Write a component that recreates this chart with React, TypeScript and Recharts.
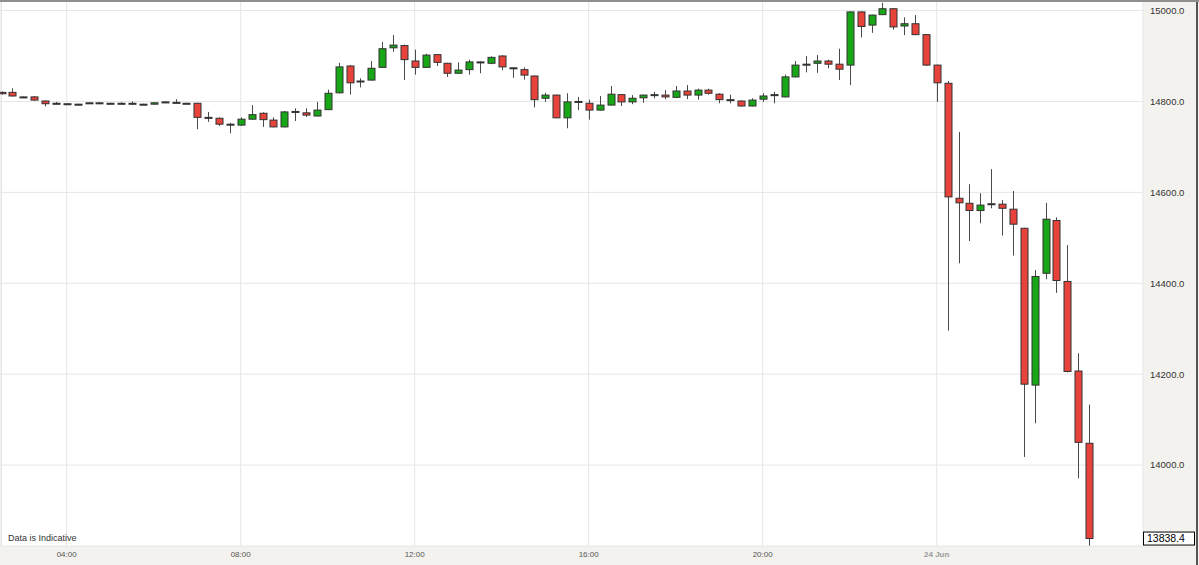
import React from "react";
import { ComposedChart, Bar, XAxis, YAxis, CartesianGrid, ReferenceLine } from "recharts";

// 15-minute candles, index 1 = 02:30, index 7 = 04:00, index 87 = 24 Jun 00:00
const opens = [
  14820, 14820, 14810, 14810, 14801, 14796, 14795, 14794, 14796, 14797,
  14796, 14796, 14796, 14794, 14794, 14799, 14798, 14796, 14796, 14765,
  14763, 14750, 14748, 14761, 14774, 14759, 14744, 14777, 14775, 14768,
  14782, 14819, 14878, 14843, 14847, 14875, 14918, 14923, 14889, 14875,
  14903, 14884, 14862, 14870, 14887, 14884, 14900, 14874, 14870, 14856,
  14807, 14814, 14764, 14799, 14796, 14781, 14792, 14815, 14799, 14808,
  14814, 14814, 14809, 14823, 14814, 14825, 14816, 14804, 14801, 14790,
  14805, 14814, 14810, 14854, 14880, 14884, 14889, 14882, 14880, 14997,
  14968, 14991, 15004, 14966, 14971, 14947, 14880, 14840, 14587, 14576,
  14560, 14573, 14574, 14563, 14521, 14176, 14422, 14538, 14404, 14207,
  14048,
];
const highs = [
  14822, 14829, 14811, 14812, 14802, 14799, 14796, 14795, 14798, 14798,
  14797, 14798, 14800, 14795, 14798, 14800, 14805, 14797, 14797, 14777,
  14765, 14753, 14765, 14792, 14776, 14765, 14779, 14785, 14785, 14799,
  14826, 14885, 14880, 14851, 14889, 14931, 14946, 14925, 14914, 14905,
  14904, 14885, 14886, 14892, 14888, 14899, 14902, 14875, 14875, 14857,
  14819, 14815, 14818, 14810, 14804, 14812, 14834, 14816, 14814, 14815,
  14821, 14825, 14834, 14836, 14828, 14828, 14818, 14815, 14802, 14807,
  14818, 14821, 14859, 14889, 14900, 14902, 14892, 14916, 14998, 14998,
  14991, 15017, 15005, 14985, 14990, 14948, 14881, 14845, 14733, 14618,
  14598, 14651, 14583, 14603, 14522, 14429, 14577, 14545, 14484, 14246,
  14133,
];
const lows = [
  14815, 14811, 14809, 14802, 14789, 14794, 14794, 14793, 14795, 14796,
  14795, 14795, 14792, 14793, 14793, 14798, 14797, 14795, 14739, 14755,
  14746, 14730, 14746, 14760, 14744, 14743, 14743, 14757, 14766, 14767,
  14781, 14818, 14815, 14831, 14846, 14874, 14909, 14847, 14859, 14874,
  14878, 14854, 14861, 14859, 14862, 14882, 14869, 14852, 14848, 14787,
  14799, 14763, 14741, 14781, 14760, 14780, 14791, 14790, 14794, 14797,
  14807, 14805, 14808, 14805, 14804, 14815, 14796, 14796, 14789, 14789,
  14799, 14796, 14809, 14853, 14864, 14863, 14873, 14847, 14836, 14941,
  14951, 14990, 14958, 14946, 14946, 14878, 14799, 14296, 14444, 14493,
  14532, 14565, 14505, 14461, 14018, 14092, 14409, 14379, 14204, 13971,
  13823,
];
const closes = [
  14817, 14812, 14810, 14803, 14795, 14795, 14795, 14794, 14797, 14797,
  14796, 14796, 14796, 14794, 14797, 14799, 14798, 14796, 14765, 14764,
  14750, 14749, 14761, 14771, 14760, 14744, 14777, 14778, 14770, 14781,
  14818, 14876, 14841, 14845, 14873, 14916, 14924, 14892, 14875, 14902,
  14886, 14862, 14869, 14887, 14885, 14897, 14876, 14873, 14858, 14804,
  14814, 14764, 14799, 14800, 14781, 14792, 14816, 14799, 14807, 14814,
  14815, 14810, 14823, 14814, 14825, 14818, 14804, 14803, 14790, 14803,
  14812, 14815, 14854, 14880, 14882, 14889, 14882, 14871, 14997, 14965,
  14990, 15004, 14964, 14971, 14947, 14880, 14841, 14590, 14577, 14560,
  14572, 14575, 14565, 14530, 14178, 14415, 14541, 14406, 14206, 14050,
  13838.4,
];

const xTicks = [7, 23, 39, 55, 71, 87];
const xTickLabels = ["04:00", "08:00", "12:00", "16:00", "20:00", "24 Jun"];
const yTicks = [14000, 14200, 14400, 14600, 14800, 15000];

const data = opens.map((o, k) => ({
  i: k + 1,
  o,
  h: highs[k],
  l: lows[k],
  c: closes[k],
}));

const lastPrice = closes[closes.length - 1];
const FONT = "'Liberation Sans', Arial, sans-serif";

const Candle = (props: any) => {
  const { x, y, width, height, payload } = props;
  if (!payload || height == null) return null;
  const { o, h, l, c } = payload;
  const range = h - l || 1;
  const top = Math.min(y, y + height);
  const ppu = Math.abs(height) / range;
  const yOf = (v: number) => top + (h - v) * ppu;
  const cx = Math.round(x + width / 2) + 0.5;
  const up = c >= o;
  const bTop = yOf(Math.max(o, c));
  const bBot = yOf(Math.min(o, c));
  const bh = Math.max(bBot - bTop, 1);
  return (
    <g>
      <line x1={cx} x2={cx} y1={yOf(h)} y2={yOf(l)} stroke="#4a4a4a" strokeWidth={1} />
      <rect
        x={cx - 3.5}
        y={bTop}
        width={7}
        height={bh}
        fill={up ? "#17a617" : "#e8433b"}
        stroke="#333"
        strokeWidth={1}
      />
    </g>
  );
};

const XTick = (props: any) => {
  const { x, y, payload } = props;
  const idx = xTicks.indexOf(payload.value);
  const label = idx >= 0 ? xTickLabels[idx] : "";
  const isDate = label.indexOf("Jun") >= 0;
  return (
    <text
      x={x}
      y={y + 9}
      textAnchor="middle"
      fontFamily={FONT}
      fontSize={8}
      fontWeight={isDate ? "bold" : "normal"}
      fill={isDate ? "#9a9a9a" : "#555"}
    >
      {label}
    </text>
  );
};

const YTick = (props: any) => {
  const { x, y, payload } = props;
  return (
    <text x={x + 5} y={y} dy="0.35em" textAnchor="start" fontFamily={FONT} fontSize={9.5} fill="#333">
      {Number(payload.value).toFixed(1)}
    </text>
  );
};

const PriceTag = (props: any) => {
  const vb = props.viewBox || {};
  const { x = 0, y = 0, width = 0 } = vb;
  const left = x + width + 0.5;
  return (
    <g>
      <rect x={left} y={y - 6.5} width={51} height={13} fill="#fff" stroke="#000" strokeWidth={1} />
      <text x={left + 3.5} y={y} dy="0.36em" fontFamily={FONT} fontSize={10.5} fill="#000">
        {lastPrice.toFixed(1)}
      </text>
    </g>
  );
};

export default function App() {
  return (
    <div style={{ position: "relative", width: 1199, height: 565, background: "#fff", overflow: "hidden" }}>
      <style>{`body{margin:0;}`}</style>
      {/* axis panels */}
      <div style={{ position: "absolute", left: 0, top: 546, width: 1199, height: 19, background: "#f3f2ee" }} />
      <div style={{ position: "absolute", left: 1143, top: 0, width: 56, height: 565, background: "#f3f2ee" }} />
      <div style={{ position: "absolute", left: 1196, top: 0, width: 2, height: 565, background: "#555" }} />
      <div style={{ position: "absolute", left: 1, top: 0, width: 1, height: 546, background: "#e4e4e4" }} />
      <div style={{ position: "absolute", left: 0, top: 0 }}>
        <ComposedChart width={1199} height={565} data={data} margin={{ top: 1, right: 0, bottom: 0, left: 0 }}>
          <CartesianGrid stroke="#e6e6e6" strokeWidth={1} />
          <XAxis
            dataKey="i"
            type="number"
            domain={[0.867, 105.97]}
            allowDataOverflow
            ticks={xTicks}
            interval={0}
            height={19}
            axisLine={false}
            tickLine={false}
            tickSize={0}
            tick={<XTick />}
          />
          <YAxis
            orientation="right"
            type="number"
            domain={[13822, 15021]}
            allowDataOverflow
            ticks={yTicks}
            interval={0}
            width={56}
            axisLine={false}
            tickLine={false}
            tickSize={0}
            tick={<YTick />}
          />
          <Bar
            dataKey={(d: any) => [d.l, d.h]}
            barSize={7}
            shape={<Candle />}
            isAnimationActive={false}
          />
          <ReferenceLine y={lastPrice} stroke="none" label={<PriceTag />} />
        </ComposedChart>
      </div>
      <div style={{ position: "absolute", left: 0, top: 0, width: 1199, height: 1.5, background: "#8f8f8f" }} />
      <div
        style={{
          position: "absolute",
          left: 8,
          top: 533,
          fontFamily: FONT,
          fontSize: 9,
          color: "#333",
          lineHeight: "11px",
        }}
      >
        Data is Indicative
      </div>
    </div>
  );
}
